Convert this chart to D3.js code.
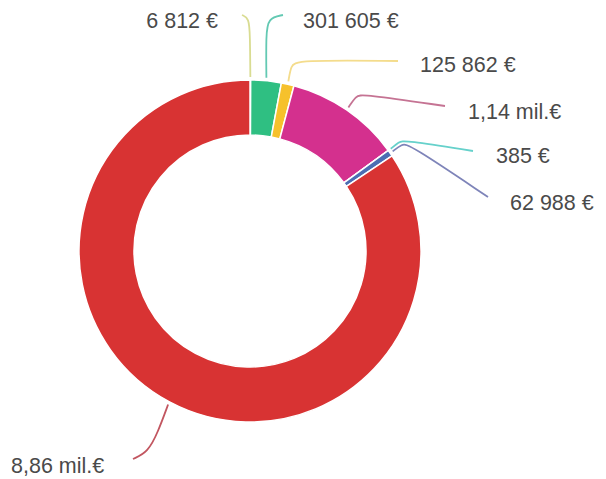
<!DOCTYPE html>
<html>
<head>
<meta charset="utf-8">
<script src="https://cdn.jsdelivr.net/npm/d3@7/dist/d3.min.js"></script>
<style>
  html, body { margin: 0; padding: 0; background: #fff; }
  svg { display: block; }
</style>
</head>
<body>
<svg width="606" height="479"></svg>
<script>
// donut of amounts, clockwise from 12 o'clock
var labels = ['6 812 €', '301 605 €', '125 862 €', '1,14 mil.€', '385 €', '62 988 €', '8,86 mil.€'];
var values = [6812, 301605, 125862, 1140000, 385, 62988, 8860000];
var sliceColors = ['#c9d34f', '#2fbf82', '#f6c12c', '#d4308e', '#3fc7c1', '#4b6db3', '#d83333'];
var lineColors = ['#d9dc92', '#63c9b3', '#f4dc8c', '#c57393', '#66d1cb', '#7e84b9', '#c25660'];

// where each label sits and how its leader line bends (layout only)
var labelPos = [
    {x: 218, y: 28, anchor: 'end',   bend: [[250, 35], [249, 18]], end: [242, 15]},
    {x: 303, y: 28, anchor: 'start', bend: [[266, 35], [268, 18]], end: [283, 15]},
    {x: 420, y: 72, anchor: 'start', bend: [[291, 66], [296, 60]], end: [398, 61]},
    {x: 468, y: 119, anchor: 'start', bend: [[356, 96], [362, 94]], end: [445, 106]},
    {x: 496, y: 163, anchor: 'start', bend: [[399, 142], [404, 140]], end: [473, 151]},
    {x: 510, y: 210, anchor: 'start', bend: [[402, 144], [409, 144]], end: [488, 197]},
    {x: 11, y: 473, anchor: 'start', bend: [[158, 432], [148, 452]], end: [133, 459]}
];

var cx = 250, cy = 251, rOuter = 171, rInner = 116;

var svg = d3.select('svg');
var g = svg.append('g').attr('transform', 'translate(' + cx + ',' + cy + ')');

var pie = d3.pie().sort(null).value(function(d) { return d; });
var arcs = pie(values);

var arc = d3.arc().innerRadius(rInner).outerRadius(rOuter);

// soft white rim round the ring
g.append('circle')
    .attr('r', rOuter + 1.5)
    .attr('fill', 'none')
    .attr('stroke', '#ffffff')
    .attr('stroke-width', 3);

g.selectAll('path.slice')
    .data(arcs)
    .enter()
    .append('path')
    .attr('class', 'slice')
    .attr('d', arc)
    .attr('fill', function(d, i) { return sliceColors[i]; })
    .attr('stroke', '#ffffff')
    .attr('stroke-width', 1.5)
    .attr('stroke-linejoin', 'round');

// leader lines start on the outer edge at the slice middle
var line = d3.line().curve(d3.curveBasis);

svg.selectAll('path.leader')
    .data(arcs)
    .enter()
    .append('path')
    .attr('class', 'leader')
    .attr('d', function(d, i) {
        var a = (d.startAngle + d.endAngle) / 2;
        var start = [cx + (rOuter + 3) * Math.sin(a), cy - (rOuter + 3) * Math.cos(a)];
        var p = labelPos[i];
        return line([start].concat(p.bend).concat([p.end]));
    })
    .attr('fill', 'none')
    .attr('stroke', function(d, i) { return lineColors[i]; })
    .attr('stroke-width', 1.8);

svg.selectAll('text.lbl')
    .data(labels)
    .enter()
    .append('text')
    .attr('class', 'lbl')
    .attr('x', function(d, i) { return labelPos[i].x; })
    .attr('y', function(d, i) { return labelPos[i].y; })
    .attr('text-anchor', function(d, i) { return labelPos[i].anchor; })
    .attr('font-family', 'Liberation Sans, Arial, sans-serif')
    .attr('font-size', 21.5)
    .attr('fill', '#4a4a4a')
    .text(function(d) { return d; });
</script>
</body>
</html>
